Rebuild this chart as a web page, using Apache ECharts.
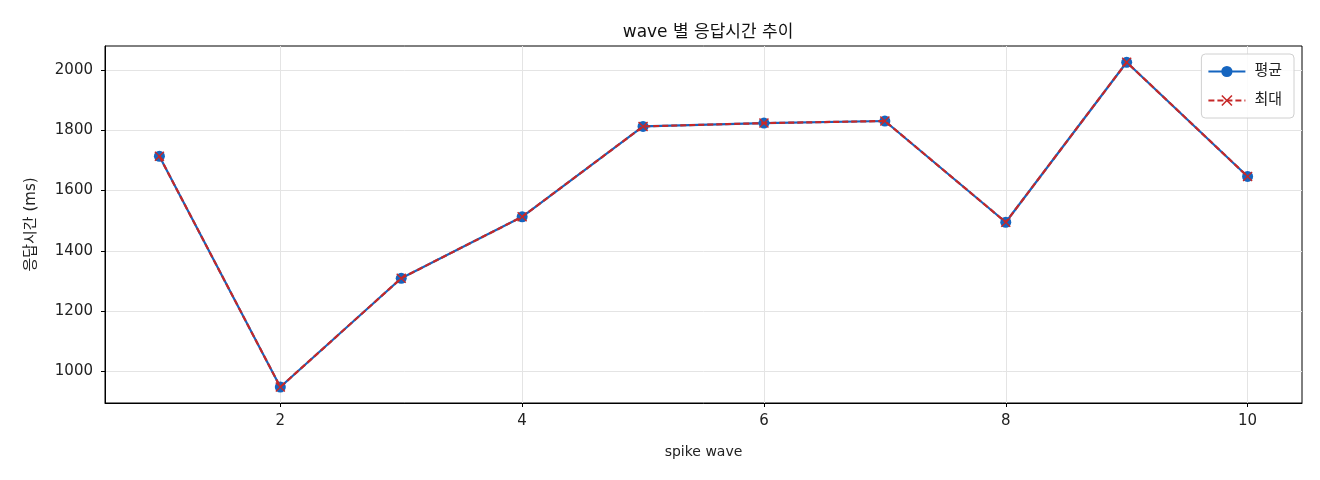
<!DOCTYPE html>
<html style="height: 100%">
<head>
    <meta charset="utf-8">
</head>
<body style="height: 100%; margin: 0; background: #fff">
<div id="container" style="width: 1320px; height: 480px"></div>
<script type="text/javascript" src="https://cdn.jsdelivr.net/npm/echarts@6/dist/echarts.min.js"></script>
<script type="text/javascript">
var waves = [1, 2, 3, 4, 5, 6, 7, 8, 9, 10];
var avgMs = [1714, 948, 1309, 1513, 1813, 1824, 1831, 1495, 2026, 1647];
var maxMs = [1714, 948, 1309, 1513, 1813, 1824, 1831, 1495, 2026, 1647];
var xTicks = [2, 4, 6, 8, 10];
var yTicks = [1000, 1200, 1400, 1600, 1800, 2000];

var FONT = '"DejaVu Sans", "Noto Sans CJK KR", sans-serif';
var BLUE = '#1565C0';
var RED = '#C62828';
// matplotlib 'x' marker as a filled polygon
var X_MARK = 'path://M1,0 L5,4 L9,0 L10,1 L6,5 L10,9 L9,10 L5,6 L1,10 L0,9 L4,5 L0,1 Z';

function pairs(xs, ys) {
    return xs.map(function (x, i) { return [x, ys[i]]; });
}

var dom = document.getElementById('container');
var myChart = echarts.init(dom, null, { renderer: 'canvas' });

var option = {
    animation: false,
    backgroundColor: '#fff',
    textStyle: { fontFamily: FONT },
    title: {
        text: 'wave 별 응답시간 추이',
        left: 703,
        textAlign: 'center',
        top: 19,
        textStyle: { fontFamily: FONT, fontSize: 17, fontWeight: 'normal', color: '#111' }
    },
    legend: {
        orient: 'vertical',
        right: 26,
        top: 54,
        itemWidth: 37,
        itemHeight: 14,
        itemGap: 14,
        padding: [10, 12, 10, 6],
        borderColor: '#d0d0d0',
        borderWidth: 1,
        borderRadius: 4,
        backgroundColor: 'rgba(255,255,255,0.85)',
        textStyle: { fontFamily: FONT, fontSize: 15, color: '#222', padding: [0, 0, 0, 4] },
        data: ['평균', '최대']
    },
    grid: {
        left: 105,
        right: 18,
        top: 46,
        bottom: 77,
        show: true,
        borderColor: '#000',
        borderWidth: 1,
        backgroundColor: 'transparent'
    },
    xAxis: {
        type: 'value',
        min: 0.55,
        max: 10.45,
        name: 'spike wave',
        nameLocation: 'middle',
        nameGap: 42,
        nameTextStyle: { fontFamily: FONT, fontSize: 14, color: '#222' },
        axisLine: { show: true, lineStyle: { color: '#000', width: 1 } },
        axisTick: { show: true, length: 4, lineStyle: { color: '#000' }, customValues: xTicks },
        axisLabel: { fontFamily: FONT, fontSize: 15, color: '#222', margin: 11, customValues: xTicks },
        splitLine: { show: true, lineStyle: { color: '#e4e4e4', width: 1 } }
    },
    yAxis: {
        type: 'value',
        min: 895,
        max: 2080,
        name: '응답시간 (ms)',
        nameLocation: 'middle',
        nameGap: 66,
        nameTextStyle: { fontFamily: FONT, fontSize: 15, color: '#222' },
        axisLine: { show: true, lineStyle: { color: '#000', width: 1 } },
        axisTick: { show: true, length: 4, lineStyle: { color: '#000' }, customValues: yTicks },
        axisLabel: {
            fontFamily: FONT, fontSize: 15, color: '#222', margin: 12, customValues: yTicks,
            formatter: function (v) { return String(v); }
        },
        splitLine: { show: true, lineStyle: { color: '#e4e4e4', width: 1 } }
    },
    series: [
        {
            name: '평균',
            type: 'line',
            data: pairs(waves, avgMs),
            symbol: 'circle',
            symbolSize: 11,
            color: BLUE,
            lineStyle: { color: BLUE, width: 2.2 },
            itemStyle: { color: BLUE },
            z: 2
        },
        {
            name: '최대',
            type: 'line',
            data: pairs(waves, maxMs),
            symbol: X_MARK,
            symbolSize: 10,
            color: RED,
            lineStyle: { color: RED, width: 2.2, type: [6, 3] },
            itemStyle: { color: RED },
            z: 3
        }
    ]
};

myChart.setOption(option);
</script>
</body>
</html>
